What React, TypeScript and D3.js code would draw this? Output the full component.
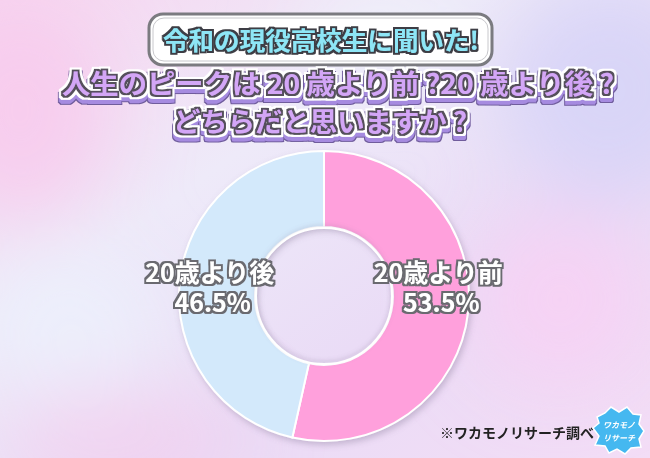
// @ts-nocheck
import React from 'react'
import * as d3 from 'd3'

const categories = ['20歳より前', '20歳より後']
const values = [53.5, 46.5]
const colors = ['#FFA0DC', '#D3E9FB']

const title1 = '令和の現役高校生に聞いた!'
const title2 = '人生のピークは 20 歳より前 ?20 歳より後 ?'
const title3 = 'どちらだと思いますか ?'
const source = '※ワカモノリサーチ調べ'

const W = 650
const H = 458
const FONT = '"Noto Sans CJK JP", "Noto Sans", sans-serif'

const App = () => {
  const cx = 324
  const cy = 296
  const outerR = 145
  const innerR = 69

  const pie = d3
    .pie()
    .value((d) => d)
    .sort(null)
  const arcs = pie(values)
  const arc = d3.arc().innerRadius(innerR).outerRadius(outerR)
  const labelArc = d3.arc().innerRadius(115).outerRadius(115)

  return (
    <div style={{ position: 'fixed', left: 0, top: 0 }}>
      <svg width={W} height={H} style={{ display: 'block' }}>
        <defs>
          <linearGradient id="bg" x1="0" y1="0" x2="1" y2="1">
            <stop offset="0%" stopColor="#F7D6F0" />
            <stop offset="35%" stopColor="#EEEAF9" />
            <stop offset="65%" stopColor="#EADCF6" />
            <stop offset="100%" stopColor="#F3DDF6" />
          </linearGradient>
          <filter id="blur" x="-50%" y="-50%" width="200%" height="200%">
            <feGaussianBlur stdDeviation="40" />
          </filter>
          <filter id="shadow" x="-20%" y="-20%" width="140%" height="140%">
            <feDropShadow dx="2" dy="3" stdDeviation="3" floodColor="#7a6a8a" floodOpacity="0.35" />
          </filter>
          <filter id="inner" x="-20%" y="-20%" width="140%" height="140%">
            <feDropShadow dx="0" dy="-2" stdDeviation="2" floodColor="#7a6a8a" floodOpacity="0.3" />
          </filter>
          {/* purple title: gray rim, white rim, purple drop */}
          <filter id="purpleT" x="-10%" y="-30%" width="120%" height="170%">
            <feMorphology in="SourceAlpha" operator="dilate" radius="1.8" result="a1" />
            <feFlood floodColor="#55505c" />
            <feComposite in2="a1" operator="in" result="gray" />
            <feMorphology in="SourceAlpha" operator="dilate" radius="3.6" result="a2" />
            <feFlood floodColor="#ffffff" />
            <feComposite in2="a2" operator="in" result="white" />
            <feOffset in="a2" dy="4" result="a3" />
            <feMorphology in="a3" operator="dilate" radius="0.8" result="a4" />
            <feFlood floodColor="#6f5c9c" />
            <feComposite in2="a4" operator="in" result="drk" />
            <feFlood floodColor="#A68BE0" />
            <feComposite in2="a3" operator="in" result="sh" />
            <feMerge>
              <feMergeNode in="drk" />
              <feMergeNode in="sh" />
              <feMergeNode in="white" />
              <feMergeNode in="gray" />
              <feMergeNode in="SourceGraphic" />
            </feMerge>
          </filter>
          <filter id="cyanT" x="-10%" y="-30%" width="120%" height="160%">
            <feMorphology in="SourceAlpha" operator="dilate" radius="1.7" result="a1" />
            <feFlood floodColor="#3e3e44" />
            <feComposite in2="a1" operator="in" result="dark" />
            <feMerge>
              <feMergeNode in="dark" />
              <feMergeNode in="SourceGraphic" />
            </feMerge>
          </filter>
          <filter id="whiteT" x="-10%" y="-30%" width="120%" height="160%">
            <feMorphology in="SourceAlpha" operator="dilate" radius="1.8" result="a1" />
            <feFlood floodColor="#6a6a70" />
            <feComposite in2="a1" operator="in" result="dark" />
            <feMerge>
              <feMergeNode in="dark" />
              <feMergeNode in="SourceGraphic" />
            </feMerge>
          </filter>
        </defs>
        <rect width={W} height={H} fill="url(#bg)" />
        <g filter="url(#blur)">
          <ellipse cx={20} cy={110} rx={90} ry={110} fill="#F8C8EC" opacity={0.8} />
          <ellipse cx={70} cy={330} rx={90} ry={80} fill="#ECF0FC" opacity={0.9} />
          <ellipse cx={610} cy={90} rx={110} ry={110} fill="#D6D4F7" opacity={0.9} />
          <ellipse cx={560} cy={300} rx={90} ry={90} fill="#F7D0F4" opacity={0.8} />
          <ellipse cx={120} cy={440} rx={120} ry={50} fill="#F2CDED" opacity={0.8} />
          <ellipse cx={380} cy={30} rx={80} ry={40} fill="#EEF2FB" opacity={0.9} />
        </g>

        {/* title box */}
        <rect
          x={149}
          y={14}
          width={343}
          height={51}
          rx={14}
          fill="#fff"
          stroke="#7b7b80"
          strokeWidth={3}
        />
        <rect
          x={153}
          y={18}
          width={335}
          height={43}
          rx={11}
          fill="none"
          stroke="#c8c8cc"
          strokeWidth={1}
        />
        <text
          x={321}
          y={50}
          textAnchor="middle"
          fontFamily={FONT}
          fontWeight={700}
          fontSize={25}
          textLength={316}
          lengthAdjust="spacingAndGlyphs"
          fill="#8EE6F6"
          filter="url(#cyanT)"
        >
          {title1}
        </text>
        <text
          x={338}
          y={94}
          textAnchor="middle"
          fontFamily={FONT}
          fontWeight={700}
          fontSize={27}
          textLength={552}
          lengthAdjust="spacingAndGlyphs"
          fill="#D3A6F6"
          filter="url(#purpleT)"
        >
          {title2}
        </text>
        <text
          x={320}
          y={132}
          textAnchor="middle"
          fontFamily={FONT}
          fontWeight={700}
          fontSize={27}
          textLength={294}
          lengthAdjust="spacingAndGlyphs"
          fill="#D3A6F6"
          filter="url(#purpleT)"
        >
          {title3}
        </text>

        {/* donut */}
        <g transform={`translate(${cx},${cy})`} filter="url(#shadow)">
          {arcs.map((a, i) => (
            <path key={i} d={arc(a)} fill={colors[i]} stroke="#fff" strokeWidth={2} />
          ))}
        </g>
        <circle cx={cx} cy={cy} r={innerR - 1} fill="none" stroke="#fff" strokeWidth={2} filter="url(#inner)" />

        {arcs.map((a, i) => {
          const [lx] = labelArc.centroid(a)
          return (
            <text
              key={'l' + i}
              filter="url(#whiteT)"
              textAnchor="middle"
              fontFamily={FONT}
              fontWeight={700}
              fontSize={25}
              fill="#fff"
            >
              <tspan x={cx + lx} y={cy - 14}>
                {categories[i]}
              </tspan>
              <tspan x={cx + lx + 3} y={cy + 16}>
                {values[i].toFixed(1) + '%'}
              </tspan>
            </text>
          )
        })}

        {/* source */}
        <text
          x={517}
          y={438}
          textAnchor="middle"
          fontFamily={FONT}
          fontWeight={700}
          fontSize={14}
          fill="#222"
        >
          {source}
        </text>
        <g transform="translate(619,431)">
          <path
            d="M-22,-14 L-14,-18 L-8,-24 L0,-19 L8,-24 L14,-17 L22,-16 L20,-7 L25,0 L20,8 L22,16 L12,17 L6,23 L-2,18 L-10,22 L-14,15 L-24,14 L-20,5 L-26,-3 L-20,-8 Z"
            fill="#45B8F0"
            stroke="#fff"
            strokeWidth={1.5}
          />
          <text x={0} y={-3} textAnchor="middle" fontFamily={FONT} fontWeight={700} fontSize={8} fill="#fff" fontStyle="italic">
            ワカモノ
          </text>
          <text x={0} y={10} textAnchor="middle" fontFamily={FONT} fontWeight={700} fontSize={8} fill="#fff" fontStyle="italic">
            リサーチ
          </text>
        </g>
      </svg>
    </div>
  )
}

export default App
